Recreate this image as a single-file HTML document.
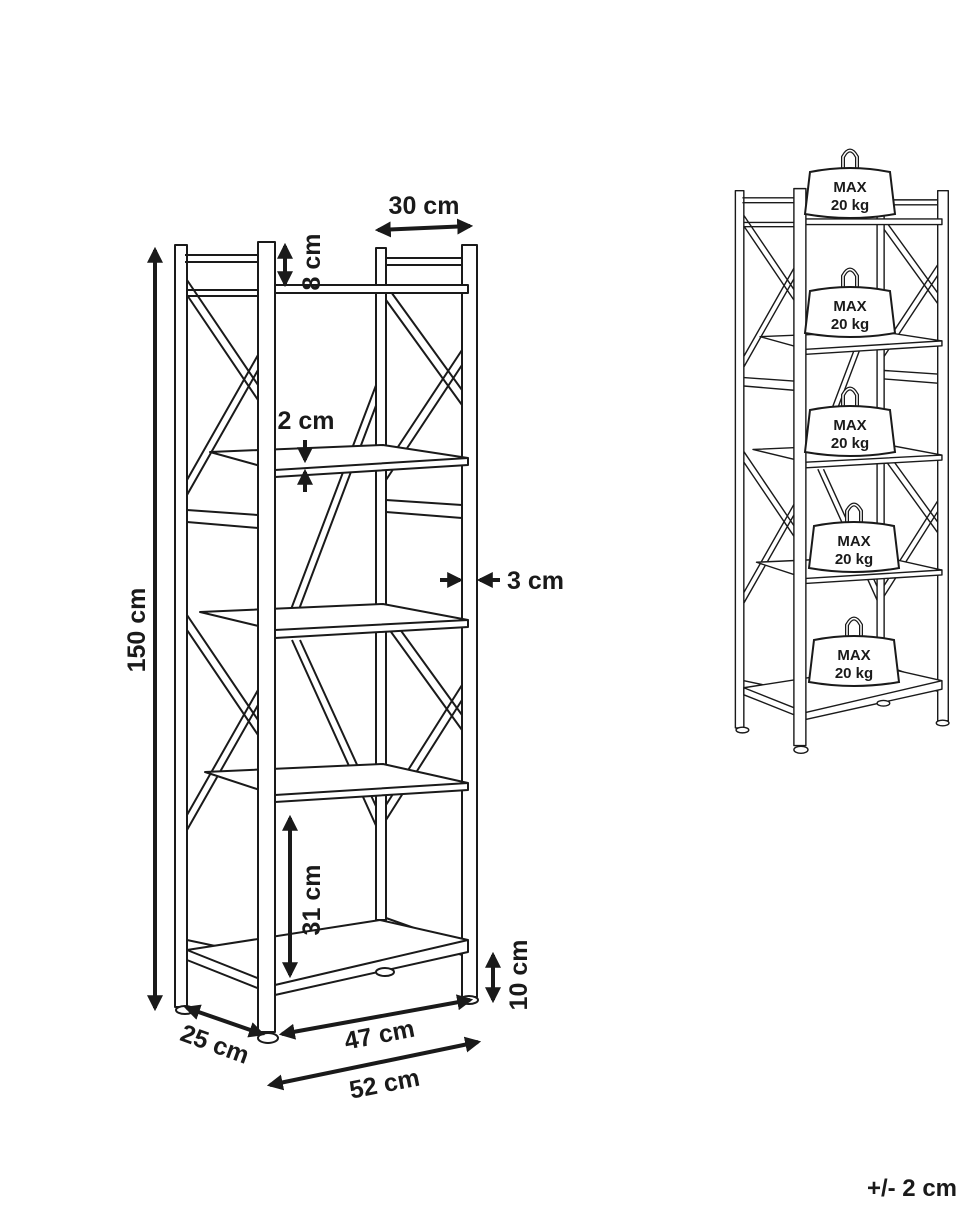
<!DOCTYPE html>
<html><head><meta charset="utf-8"><style>
html,body{margin:0;padding:0;background:#fff;}
svg{display:block;}
text{font-family:"Liberation Sans",sans-serif;font-weight:bold;fill:#1a1a1a;}
</style></head><body>
<svg width="970" height="1213" viewBox="0 0 970 1213" xmlns="http://www.w3.org/2000/svg">
<defs>
<marker id="ah" viewBox="0 0 10 10" refX="8" refY="5" markerWidth="4" markerHeight="4" orient="auto-start-reverse"><path d="M0,0L10,5L0,10z" fill="#1a1a1a"/></marker>
<g id="shelf" fill="#fff" stroke="#1a1a1a" stroke-width="2" stroke-linejoin="round">
 <!-- back diagonals -->
 <path d="M290,612 L378,380 M298,612 L380,395 M292,640 L378,830 M300,640 L380,815" />
 <!-- left side frame -->
 <rect x="175" y="245" width="12" height="762"/>
 <path d="M185,255 L258,255 M185,262 L258,262"/>
 <path d="M187,290 L258,290 M187,296 L258,296"/>
 <!-- left braces -->
 <path d="M187,280 L258,385 M187,295 L258,400 M187,495 L258,370 M187,480 L258,355"/>
 <path d="M187,510 L258,515 M187,522 L258,528"/>
 <path d="M187,615 L258,720 M187,630 L258,735 M187,830 L258,705 M187,815 L258,690"/>
 <path d="M187,940 L258,955 M187,952 L258,968"/>
 <!-- right side frame -->
 <rect x="376" y="248" width="10" height="672"/>
 <path d="M386,258 L462,258 M386,265 L462,265"/>
 <path d="M386,285 L462,390 M386,300 L462,405 M386,480 L462,365 M386,465 L462,350"/>
 <path d="M386,500 L462,505 M386,512 L462,518"/>
 <path d="M386,610 L462,715 M386,625 L462,730 M386,820 L462,700 M386,805 L462,685"/>
 <path d="M386,918 L462,945 M386,928 L462,955"/>
 <rect x="462" y="245" width="15" height="752"/>
 <!-- top bar -->
 <path d="M275,285 L468,285 L468,293 L275,293 Z"/>
 <!-- shelves -->
 <path d="M210,452 L383,445 L468,458 L275,470 Z M275,470 L468,458 L468,465 L275,477 Z"/>
 <path d="M200,612 L383,604 L468,620 L275,630 Z M275,630 L468,620 L468,627 L275,638 Z"/>
 <path d="M205,772 L383,764 L468,783 L275,795 Z M275,795 L468,783 L468,790 L275,802 Z"/>
 <path d="M187,950 L380,920 L468,940 L275,985 Z M275,985 L468,940 L468,952 L275,995 Z M187,950 L275,985 L275,995 L187,960 Z"/>
 <!-- front left post -->
 <rect x="258" y="242" width="17" height="790"/>
 <!-- feet -->
 <ellipse cx="185" cy="1010" rx="9" ry="4"/>
 <ellipse cx="268" cy="1038" rx="10" ry="5"/>
 <ellipse cx="385" cy="972" rx="9" ry="4"/>
 <ellipse cx="469" cy="1000" rx="9" ry="4"/>
</g>
<g id="wt" fill="#fff" stroke="#1a1a1a" stroke-width="2">
 <path d="M-7,-22 L-7,-35 Q0,-48 7,-35 L7,-22" fill="none" stroke-width="4"/>
 <path d="M-7,-22 L-7,-35 Q0,-48 7,-35 L7,-22" fill="none" stroke="#fff" stroke-width="1.5"/>
 <path d="M-40,-20 Q0,-28 40,-20 L45,22 Q0,30 -45,22 Z"/>
</g>
</defs>

<use href="#shelf"/>

<!-- dimensions -->
<g stroke="#1a1a1a" stroke-width="4" fill="none">
 <line x1="155" y1="250" x2="155" y2="1008" marker-start="url(#ah)" marker-end="url(#ah)"/>
 <line x1="285" y1="246" x2="285" y2="284" marker-start="url(#ah)" marker-end="url(#ah)"/>
 <line x1="378" y1="230" x2="470" y2="226" marker-start="url(#ah)" marker-end="url(#ah)"/>
 <line x1="305" y1="440" x2="305" y2="460" marker-end="url(#ah)"/>
 <line x1="305" y1="492" x2="305" y2="472" marker-end="url(#ah)"/>
 <line x1="440" y1="580" x2="460" y2="580" marker-end="url(#ah)"/>
 <line x1="500" y1="580" x2="480" y2="580" marker-end="url(#ah)"/>
 <line x1="290" y1="818" x2="290" y2="975" marker-start="url(#ah)" marker-end="url(#ah)"/>
 <line x1="493" y1="955" x2="493" y2="1000" marker-start="url(#ah)" marker-end="url(#ah)"/>
 <line x1="187" y1="1008" x2="262" y2="1034" marker-start="url(#ah)" marker-end="url(#ah)"/>
 <line x1="282" y1="1034" x2="470" y2="1000" marker-start="url(#ah)" marker-end="url(#ah)"/>
 <line x1="270" y1="1085" x2="478" y2="1042" marker-start="url(#ah)" marker-end="url(#ah)"/>
</g>
<text x="424" y="214" font-size="25" text-anchor="middle">30 cm</text>
<text transform="translate(320,262) rotate(-90)" font-size="25" text-anchor="middle">8 cm</text>
<text x="306" y="429" font-size="25" text-anchor="middle">2 cm</text>
<text x="507" y="589" font-size="25">3 cm</text>
<text transform="translate(145,630) rotate(-90)" font-size="25" text-anchor="middle">150 cm</text>
<text transform="translate(320,900) rotate(-90)" font-size="25" text-anchor="middle">31 cm</text>
<text transform="translate(527,975) rotate(-90)" font-size="25" text-anchor="middle">10 cm</text>
<text transform="translate(212,1052) rotate(20)" font-size="25" text-anchor="middle">25 cm</text>
<text transform="translate(381,1043) rotate(-11)" font-size="25" text-anchor="middle">47 cm</text>
<text transform="translate(386,1092) rotate(-11)" font-size="25" text-anchor="middle">52 cm</text>
<text x="957" y="1196" font-size="24" text-anchor="end">+/- 2 cm</text>

<!-- right figure -->
<g transform="translate(612,18) scale(0.705)">
 <use href="#shelf"/>
</g>
<g>
 <use href="#wt" transform="translate(850,192)"/>
 <use href="#wt" transform="translate(850,311)"/>
 <use href="#wt" transform="translate(850,430)"/>
 <use href="#wt" transform="translate(854,546)"/>
 <use href="#wt" transform="translate(854,660)"/>
</g>
<g font-size="15" text-anchor="middle">
 <text x="850" y="192">MAX</text><text x="850" y="210">20 kg</text>
 <text x="850" y="311">MAX</text><text x="850" y="329">20 kg</text>
 <text x="850" y="430">MAX</text><text x="850" y="448">20 kg</text>
 <text x="854" y="546">MAX</text><text x="854" y="564">20 kg</text>
 <text x="854" y="660">MAX</text><text x="854" y="678">20 kg</text>
</g>
</svg>
</body></html>
